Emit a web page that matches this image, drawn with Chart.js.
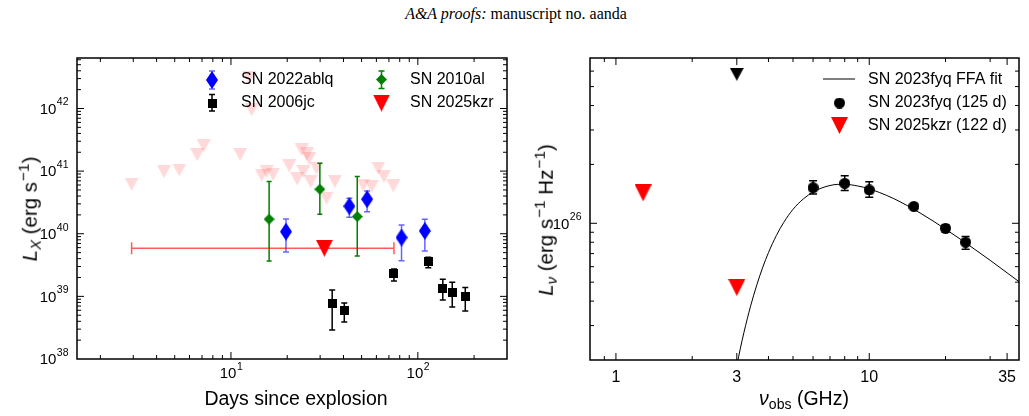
<!DOCTYPE html>
<html>
<head>
<meta charset="utf-8">
<script src="https://cdn.jsdelivr.net/npm/chart.js@4.4.1/dist/chart.umd.min.js"></script>
<style>
html,body{margin:0;padding:0;background:#fff;}
body{width:1029px;height:416px;overflow:hidden;position:relative;font-family:"Liberation Sans",Arial,sans-serif;color:#000;}
#w1{position:absolute;left:0;top:0;width:540px;height:416px;}
#w2{position:absolute;left:540px;top:0;width:489px;height:416px;}
.hdr{position:absolute;left:516px;top:14px;transform:translate(-50%,-50%);font-family:"Liberation Serif","DejaVu Serif",serif;font-size:16px;white-space:nowrap;}
.t{position:absolute;white-space:nowrap;transform:translate(-50%,-50%);font-size:19.5px;line-height:1;}
.yt{position:absolute;white-space:nowrap;transform:translate(-50%,-50%) rotate(-90deg);font-size:20.5px;line-height:1;}
sub,sup{font-size:0.72em;line-height:0;position:relative;vertical-align:baseline;}
sub{top:0.3em;}
sup{top:-0.5em;}
.yt sup{font-size:0.75em;padding-left:1px;}
</style>
</head>
<body>
<div class="hdr"><i>A&amp;A proofs:</i> manuscript no. aanda</div>
<div id="w1"><canvas id="c1" width="540" height="416"></canvas></div>
<div id="w2"><canvas id="c2" width="489" height="416"></canvas></div>
<div class="t" style="left:296px;top:399px;">Days since explosion</div>
<div class="t" style="left:804px;top:399px;"><i>ν</i><sub>obs</sub> (GHz)</div>
<div class="yt" style="left:30px;top:209px;"><i>L</i><sub><i>X</i></sub> (erg s<sup>−1</sup>)</div>
<div class="yt" style="left:546px;top:220px;"><i>L</i><sub><i>ν</i></sub> (erg s<sup>−1</sup> Hz<sup>−1</sup>)</div>
<script>
// ================= DATA =================
// Left panel: X-ray luminosity vs days since explosion
const days2022ablq = [19.7, 43.0, 53.5, 81.8, 109];
const lx2022ablq   = [1.08e40, 2.75e40, 3.56e40, 8.7e39, 1.11e40];
const lx2022ablqLo = [5.1e39, 1.84e40, 2.25e40, 3.7e39, 5.3e39];
const lx2022ablqHi = [1.72e40, 3.69e40, 4.83e40, 1.38e40, 1.71e40];

const days2010al = [16.0, 29.9, 47.4];
const lx2010al   = [1.71e40, 5.14e40, 1.88e40];
const lx2010alLo = [3.67e39, 2.05e40, 4.42e39];
const lx2010alHi = [6.8e40, 1.34e41, 8.17e40];

const days2006jc = [34.8, 40.4, 74.5, 113.7, 136, 152.8, 179.4];
const lx2006jc   = [7.76e38, 5.85e38, 2.28e39, 3.58e39, 1.36e39, 1.17e39, 9.78e38];
const lx2006jcLo = [2.9e38, 3.9e38, 1.76e39, 2.87e39, 8.75e38, 6.78e38, 5.85e38];
const lx2006jcHi = [1.26e39, 7.85e38, 2.74e39, 4.21e39, 1.88e39, 1.68e39, 1.38e39];

const days2025kzr   = [31.6];
const lx2025kzr     = [5.87e39];
const days2025kzrLo = [2.94];
const days2025kzrHi = [74.5];

const daysPaleLimits = [2.94, 4.38, 5.29, 6.60, 7.14, 11.2, 12.5, 12.9, 14.6, 15.5, 16.8, 20.5, 22.6, 23.9, 24.4, 25.5, 26.2, 26.7, 28.7, 32.5, 36.0, 51.0, 56.6, 61.4, 65.9, 73.9];
const lxPaleLimits   = [6.18e40, 9.8e40, 1.04e41, 1.82e41, 2.53e41, 1.84e41, 3.1e42, 9.5e41, 8.6e40, 9.8e40, 8.9e40, 1.21e41, 7.5e40, 2.18e41, 9.8e40, 1.88e41, 1.57e41, 6.8e40, 1.11e41, 3.69e40, 6.8e40, 6.0e40, 5.65e40, 1.11e41, 8.2e40, 5.8e40];

const leftXMajor = [10, 100];
const leftXMinor = [2,3,4,5,6,7,8,9,20,30,40,50,60,70,80,90,200];
const leftYMajor = [1e38, 1e39, 1e40, 1e41, 1e42];
const leftYMinor = [2e38,3e38,4e38,5e38,6e38,7e38,8e38,9e38,2e39,3e39,4e39,5e39,6e39,7e39,8e39,9e39,2e40,3e40,4e40,5e40,6e40,7e40,8e40,9e40,2e41,3e41,4e41,5e41,6e41,7e41,8e41,9e41,2e42,3e42,4e42,5e42,6e42];

// Right panel: radio spectral luminosity vs frequency
const nu2023fyq    = [6, 8, 10, 15, 20, 24];
const lnu2023fyq   = [1.52e26, 1.60e26, 1.48e26, 1.22e26, 9.43e25, 8.0e25];
const lnu2023fyqLo = [1.41e26, 1.47e26, 1.36e26, 1.20e26, 9.0e25, 7.36e25];
const lnu2023fyqHi = [1.65e26, 1.75e26, 1.63e26, 1.24e26, 9.8e25, 8.55e25];

const nuFfaFit  = [3.0, 3.1, 3.2, 3.3, 3.4, 3.6, 3.8, 4.0, 4.3, 4.6, 5.0, 5.5, 6.0, 6.5, 7.0, 7.5, 8.0, 9.0, 10, 11, 12.5, 14, 16, 18, 20, 23, 26, 30, 35, 40];
const lnuFfaFit = [1.87e25, 2.30e25, 2.76e25, 3.25e25, 3.77e25, 4.85e25, 5.97e25, 7.08e25, 8.67e25, 1.012e26, 1.178e26, 1.334e26, 1.445e26, 1.517e26, 1.560e26, 1.581e26, 1.581e26, 1.552e26, 1.500e26, 1.435e26, 1.337e26, 1.239e26, 1.122e26, 1.021e26, 9.33e25, 8.26e25, 7.38e25, 6.47e25, 5.58e25, 4.91e25];

const nuUpper2023fyq  = [3.0];
const lnuUpper2023fyq = [5.78e26];

const nu2025kzr  = [1.28, 3.0];
const lnu2025kzr = [1.43e26, 4.69e25];

const rightXMajor = [1, 3, 10, 35];
const rightXMinor = [0.9, 2, 4, 5, 6, 7, 8, 9, 20, 30];
const rightYMajor = [1e26];
const rightYMinor = [3e25, 4e25, 5e25, 6e25, 7e25, 8e25, 9e25, 2e26, 3e26, 4e26, 5e26, 6e26];

// ================= helpers =================
const FONT = "'Liberation Sans', Arial, sans-serif";
Chart.defaults.font.family = FONT;
Chart.defaults.color = '#000';

function zip(xs, ys){ return xs.map((x,i) => ({x, y: ys[i]})); }
function pairs(lo, hi){ return lo.map((l,i) => [l, hi[i]]); }

function mk(w, h, draw){
  const c = document.createElement('canvas');
  c.width = w; c.height = h;
  draw(c.getContext('2d'), w, h);
  return c;
}
function triDown(w, h, fill){
  return mk(w, h, (g) => { g.fillStyle = fill; g.beginPath(); g.moveTo(0,0); g.lineTo(w,0); g.lineTo(w/2,h); g.closePath(); g.fill(); });
}
function diamond(w, h, fill){
  return mk(w, h, (g) => { g.fillStyle = fill; g.beginPath(); g.moveTo(w/2,0); g.lineTo(w,h/2); g.lineTo(w/2,h); g.lineTo(0,h/2); g.closePath(); g.fill(); });
}
function square(s, fill){
  return mk(s, s, (g) => { g.fillStyle = fill; g.fillRect(0,0,s,s); });
}
function disc(d, fill){
  return mk(d, d, (g) => { g.fillStyle = fill; g.beginPath(); g.arc(d/2,d/2,d/2,0,Math.PI*2); g.fill(); });
}

const mBlueDiamond = diamond(12, 18, '#0000ff');
const mGreenDiamond = diamond(11, 11, '#007f00');
const mBlackSquare = square(9, '#000000');
const mRedTri = triDown(17, 17, '#ff0000');
const mPaleTri = triDown(14, 13, 'rgba(255,0,0,0.15)');
const mBlackTri = triDown(14, 13, '#000000');
const mBlackDisc = disc(11, '#000000');

// power-of-ten label "10" with raised exponent
function drawPow(ctx, v, x, yc, align){
  const e = String(Math.round(Math.log10(v)));
  const base = "15px " + FONT, small = "10.5px " + FONT;
  ctx.font = base; const wb = ctx.measureText('10').width;
  ctx.font = small; const ws = ctx.measureText(e).width;
  const x0 = align === 'right' ? x - wb - ws : x - (wb + ws) / 2;
  ctx.textAlign = 'left'; ctx.textBaseline = 'alphabetic'; ctx.fillStyle = '#000';
  ctx.font = base; ctx.fillText('10', x0, yc + 5.3);
  ctx.font = small; ctx.fillText(e, x0 + wb + 0.5, yc - 3);
}

// error bars drawn through the chart's own scales
const errorBars = {
  id: 'errorBars',
  beforeDatasetDraw(chart, args){
    const ds = chart.data.datasets[args.index];
    if (!ds.errY && !ds.errX) return;
    const xs = chart.scales.x, ys = chart.scales.y, ctx = chart.ctx;
    ctx.save();
    ctx.beginPath();
    ctx.rect(chart.chartArea.left, chart.chartArea.top, chart.chartArea.right - chart.chartArea.left, chart.chartArea.bottom - chart.chartArea.top);
    ctx.clip();
    ctx.strokeStyle = ds.errColor || '#000';
    ctx.lineWidth = ds.errWidth || 1.5;
    const cap = ds.capSize || 3;
    ds.data.forEach((p, i) => {
      const px = xs.getPixelForValue(p.x), py = ys.getPixelForValue(p.y);
      ctx.beginPath();
      if (ds.errY) {
        const y1 = ys.getPixelForValue(ds.errY[i][0]), y2 = ys.getPixelForValue(ds.errY[i][1]);
        ctx.moveTo(px, y1); ctx.lineTo(px, y2);
        ctx.moveTo(px - cap, y1); ctx.lineTo(px + cap, y1);
        ctx.moveTo(px - cap, y2); ctx.lineTo(px + cap, y2);
      }
      if (ds.errX) {
        const x1 = xs.getPixelForValue(ds.errX[i][0]), x2 = xs.getPixelForValue(ds.errX[i][1]);
        ctx.moveTo(x1, py); ctx.lineTo(x2, py);
        ctx.moveTo(x1, py - cap); ctx.lineTo(x1, py + cap);
        ctx.moveTo(x2, py - cap); ctx.lineTo(x2, py + cap);
      }
      ctx.stroke();
    });
    ctx.restore();
  }
};

// inward ticks on all four sides, frame, power labels, legend
const frameAndLegend = {
  id: 'frameAndLegend',
  afterDatasetsDraw(chart, args, opts){
    const ctx = chart.ctx, a = chart.chartArea, xs = chart.scales.x, ys = chart.scales.y;
    ctx.save();
    ctx.strokeStyle = '#000';
    ctx.lineWidth = 1;
    const tx = (vals, len) => vals.forEach(v => {
      const p = xs.getPixelForValue(v);
      if (p <= a.left + 1 || p >= a.right - 1) return;
      ctx.beginPath();
      ctx.moveTo(p, a.bottom); ctx.lineTo(p, a.bottom - len);
      ctx.moveTo(p, a.top); ctx.lineTo(p, a.top + len);
      ctx.stroke();
    });
    const ty = (vals, len) => vals.forEach(v => {
      const p = ys.getPixelForValue(v);
      if (p <= a.top + 1 || p >= a.bottom - 1) return;
      ctx.beginPath();
      ctx.moveTo(a.left, p); ctx.lineTo(a.left + len, p);
      ctx.moveTo(a.right, p); ctx.lineTo(a.right - len, p);
      ctx.stroke();
    });
    tx(opts.xMajor, 7); tx(opts.xMinor, 4);
    ty(opts.yMajor, 7); ty(opts.yMinor, 4);
    ctx.lineWidth = 1.5;
    ctx.strokeRect(a.left, a.top, a.right - a.left, a.bottom - a.top);

    if (opts.powX) opts.xMajor.forEach(v => drawPow(ctx, v, xs.getPixelForValue(v), a.bottom + 14, 'center'));
    if (opts.powY) opts.yMajor.forEach(v => drawPow(ctx, v, a.left - 9, ys.getPixelForValue(v), 'right'));

    // legend
    (opts.legend || []).forEach(it => {
      if (it.err) {
        ctx.strokeStyle = it.errColor; ctx.lineWidth = 1.5;
        ctx.beginPath();
        ctx.moveTo(it.mx, it.err[0]); ctx.lineTo(it.mx, it.err[1]);
        ctx.moveTo(it.mx - 3, it.err[0]); ctx.lineTo(it.mx + 3, it.err[0]);
        ctx.moveTo(it.mx - 3, it.err[1]); ctx.lineTo(it.mx + 3, it.err[1]);
        ctx.stroke();
      }
      if (it.line) {
        ctx.strokeStyle = '#000'; ctx.lineWidth = 1;
        ctx.beginPath(); ctx.moveTo(it.line[0], it.my); ctx.lineTo(it.line[1], it.my); ctx.stroke();
      }
      if (it.marker) ctx.drawImage(it.marker, it.mx - it.marker.width/2, it.my - it.marker.height/2);
      ctx.font = "16px " + FONT;
      ctx.textBaseline = 'middle';
      ctx.textAlign = 'left';
      ctx.fillStyle = '#000';
      ctx.fillText(it.text, it.tx, it.ty);
    });
    ctx.restore();
  }
};

function logAxis(min, max, major, showLabels, fit, pad, size){
  return {
    type: 'logarithmic', min, max,
    grid: {display: false, drawTicks: false},
    border: {display: false},
    afterBuildTicks: (s) => { s.ticks = major.map(v => ({value: v})); },
    afterFit: fit,
    ticks: {display: showLabels, autoSkip: false, maxRotation: 0, padding: pad, color: '#000', font: {size: size}, callback: (v) => String(v)}
  };
}

// ================= LEFT CHART =================
new Chart(document.getElementById('c1'), {
  type: 'scatter',
  data: {
    datasets: [
      {label: 'pale limits', data: zip(daysPaleLimits, lxPaleLimits), pointStyle: mPaleTri, pointRadius: 6, order: 5},
      {label: 'SN 2010al', data: zip(days2010al, lx2010al), pointStyle: mGreenDiamond, pointRadius: 6,
       errY: pairs(lx2010alLo, lx2010alHi), errColor: '#007f00', errWidth: 1.5, capSize: 2.5, order: 4},
      {label: 'SN 2022ablq', data: zip(days2022ablq, lx2022ablq), pointStyle: mBlueDiamond, pointRadius: 6,
       errY: pairs(lx2022ablqLo, lx2022ablqHi), errColor: 'rgba(0,0,255,0.6)', errWidth: 1.5, capSize: 3, order: 3},
      {label: 'SN 2006jc', data: zip(days2006jc, lx2006jc), pointStyle: mBlackSquare, pointRadius: 6,
       errY: pairs(lx2006jcLo, lx2006jcHi), errColor: '#000', errWidth: 1.5, capSize: 3, order: 2},
      {label: 'SN 2025kzr', data: zip(days2025kzr, lx2025kzr), pointStyle: mRedTri, pointRadius: 8,
       errX: pairs(days2025kzrLo, days2025kzrHi), errColor: 'rgba(255,0,0,0.65)', errWidth: 1.5, capSize: 6, order: 1}
    ]
  },
  options: {
    responsive: false, animation: false, events: [],
    layout: {padding: {left: 0, right: 33, top: 58, bottom: 17}},
    plugins: {
      legend: {display: false}, tooltip: {enabled: false},
      frameAndLegend: {
        xMajor: leftXMajor, xMinor: leftXMinor, yMajor: leftYMajor, yMinor: leftYMinor, powX: true, powY: true,
        legend: [
          {marker: mBlueDiamond, mx: 212, my: 80, err: [71, 89], errColor: 'rgba(0,0,255,0.6)', text: 'SN 2022ablq', tx: 241, ty: 80},
          {marker: mBlackSquare, mx: 212, my: 103, err: [94.5, 111], errColor: '#000', text: 'SN 2006jc', tx: 241, ty: 103},
          {marker: mGreenDiamond, mx: 381.5, my: 79.5, err: [71, 88.5], errColor: '#007f00', text: 'SN 2010al', tx: 410, ty: 80},
          {marker: mRedTri, mx: 381.5, my: 103, text: 'SN 2025kzr', tx: 410, ty: 103}
        ]
      }
    },
    scales: {
      x: Object.assign(logAxis(1.5, 300, leftXMajor, false, (s) => { s.height = 40; }, 8, 15), {position: 'bottom'}),
      y: Object.assign(logAxis(1e38, 6.4e42, leftYMajor, false, (s) => { s.width = 77; }, 9, 15), {position: 'left'})
    }
  },
  plugins: [errorBars, frameAndLegend]
});

// ================= RIGHT CHART =================
new Chart(document.getElementById('c2'), {
  type: 'scatter',
  data: {
    datasets: [
      {type: 'line', label: 'SN 2023fyq FFA fit', data: zip(nuFfaFit, lnuFfaFit), borderColor: '#000', borderWidth: 1,
       pointRadius: 0, fill: false, cubicInterpolationMode: 'monotone', order: 4},
      {label: 'SN 2023fyq (125 d)', data: zip(nu2023fyq, lnu2023fyq), pointStyle: mBlackDisc, pointRadius: 6,
       errY: pairs(lnu2023fyqLo, lnu2023fyqHi), errColor: '#000', errWidth: 1.5, capSize: 4, order: 3},
      {label: 'SN 2023fyq limit', data: zip(nuUpper2023fyq, lnuUpper2023fyq), pointStyle: mBlackTri, pointRadius: 6, order: 2},
      {label: 'SN 2025kzr (122 d)', data: zip(nu2025kzr, lnu2025kzr), pointStyle: mRedTri, pointRadius: 8, order: 1}
    ]
  },
  options: {
    responsive: false, animation: false, events: [],
    layout: {padding: {left: 0, right: 10, top: 58, bottom: 16}},
    plugins: {
      legend: {display: false}, tooltip: {enabled: false},
      frameAndLegend: {
        xMajor: rightXMajor, xMinor: rightXMinor, yMajor: rightYMajor, yMinor: rightYMinor, powX: false, powY: true,
        legend: [
          {line: [283, 315], mx: 299, my: 79, text: 'SN 2023fyq FFA fit', tx: 328, ty: 80},
          {marker: mBlackDisc, mx: 299.5, my: 103, text: 'SN 2023fyq (125 d)', tx: 328, ty: 103},
          {marker: mRedTri, mx: 299.5, my: 125.5, text: 'SN 2025kzr (122 d)', tx: 328, ty: 126}
        ]
      }
    },
    scales: {
      x: Object.assign(logAxis(0.79, 39, rightXMajor, true, (s) => { s.height = 40; }, 8, 16), {position: 'bottom'}),
      y: Object.assign(logAxis(2e25, 7e26, rightYMajor, false, (s) => { s.width = 50; }, 9, 15), {position: 'left'})
    }
  },
  plugins: [errorBars, frameAndLegend]
});
</script>
</body>
</html>
